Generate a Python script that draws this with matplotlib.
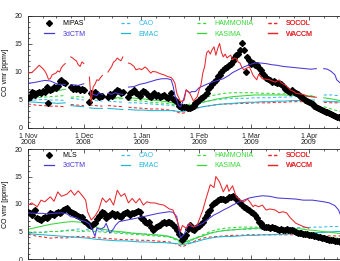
import numpy as np
import matplotlib
matplotlib.use("Agg")
import matplotlib.pyplot as plt
from matplotlib.lines import Line2D

plt.rcParams["font.family"] = ["Liberation Sans", "DejaVu Sans"]

N = np.nan

# ---------------- data (day since 1 Nov 2008, CO vmr ppmv) ----------------
month_days = [0, 30, 61, 92, 120, 151]
month_labels = ["1 Nov\n2008", "1 Dec\n2008", "1 Jan\n2009", "1 Feb\n2009", "1 Mar\n2009", "1 Apr\n2009"]

# ---- top panel (MIPAS) ----
top_obs = [(0,5.3),(1,5.6),(2,6.5),(3,6.2),(4,5.9),(5,6.3),(6,6.5),(7,6.2),(8,6.6),(9,6.4),(10,7.3),(11,4.5),(12,6.8),(13,7.0),(14,7.4),(15,7.2),(16,7.5),(17,8.4),(18,8.6),(19,8.3),(20,8.1),
 (23,7.3),(24,7.0),(25,7.2),(26,6.9),(27,7.1),(28,6.8),(29,6.9),(30,6.7),
 (33,4.7),(34,6.2),(35,5.8),(36,6.4),(37,6.0),(38,5.5),(39,5.8),(40,5.7),
 (43,5.5),(44,6.0),(45,5.8),(46,6.3),(47,6.5),(48,6.8),(49,6.6),(50,6.3),(51,6.4),
 (54,5.6),(55,6.2),(56,6.5),(57,6.8),(58,6.3),(59,6.0),(60,5.7),(61,6.2),(62,6.6),(63,6.4),(64,6.0),(65,5.8),(66,5.6),(67,6.0),(68,6.2),(69,5.8),(70,5.9),(71,5.5),(72,5.8),(73,5.9),(74,5.6),(75,5.4),(76,5.5),(77,6.2),(78,5.2),(79,5.0),(80,4.6),(81,4.0),(82,3.8),(83,3.7),(84,3.8),(85,3.8),(86,3.6),(87,3.5),(88,3.8),(89,4.0),(90,4.4),(91,4.6),(92,5.0),(93,5.3),(94,5.6),(95,5.9),(96,6.3),(97,7.0),(98,7.4),(99,7.8),(100,8.2),(101,8.6),(102,9.2),(103,9.5),(104,10.0),(105,10.4),(106,10.8),(107,10.9),(108,11.3),(109,11.5),(110,12.0),(111,12.5),(112,13.0),(113,13.3),(114,13.9),(115,15.1),(116,13.9),(117,10.0),(118,12.7),(119,12.1),(120,11.5),(121,11.6),(122,11.3),(123,11.2),(124,10.8),(125,10.4),(126,9.8),(127,9.5),(128,8.9),(129,8.8),(130,8.5),(131,8.3),(132,8.4),(133,8.2),(134,8.1),(135,8.0),(136,7.8),(137,7.5),(138,7.0),(139,6.8),(140,6.6),(141,6.5),(142,6.7),(143,6.4),(144,6.2),(145,6.0),(146,5.8),(147,5.5),(148,5.3),(149,5.0),(150,4.9),(151,4.7),(152,4.5),(153,4.3),(154,4.0),(155,3.8),(156,3.6),(157,3.4),(158,3.2),(159,3.1),(160,2.9),(161,2.8),(162,2.6),(163,2.5),(164,2.3),(165,2.2),(166,2.0),(167,1.9),(168,1.8)]

top_waccm = [(0,9.8),(2,9.9),(4,10.5),(6,11.2),(8,10.6),(9,10.2),(10,9.6),(11,8.7),(12,8.8),(13,9.5),(15,9.8),(16,10.2),(17,10.0),(18,10.8),(19,11.2),(20,11.5),(21.5,N),
 (23,12.7),(24,12.5),(25,12.2),(26,12.0),(27,11.3),(28,11.0),(29,11.8),(30,11.5),(31.5,N),
 (33,9.1),(34,4.6),(35,7.3),(36,7.8),(37,8.6),(38,8.5),(39,9.0),(40,9.4),(41.5,N),
 (43,10.0),(44,10.5),(45,11.0),(46,11.8),(47,12.0),(48,12.5),(49,12.2),(50,12.0),(51,12.7),(52.5,N),
 (54,11.6),(55,11.5),(57,11.0),(58,10.4),(60,10.6),(61,10.4),(63,10.9),(64,10.6),(66,9.8),(67,10.1),(69,10.0),(71,9.7),(73,9.5),(75,9.2),(77,9.0),(78,8.6),(79,8.0),(80,6.2),(82,4.7),(84,5.0),(85,6.8),(87,6.2),(89,4.8),(90,5.2),(91,5.6),(92,6.8),(93,7.7),(94,9.8),(95,11.0),(96,13.4),(97,13.8),(98,13.2),(99,14.0),(100,14.5),(101,13.0),(102,14.2),(103,15.1),(104,13.5),(105,12.7),(106,13.2),(107,12.5),(108,12.8),(109,13.0),(110,12.2),(111,12.5),(112,12.4),(113,11.8),(114,11.6),(115,10.8),(116,10.4),(117,10.6),(119,10.9),(120,10.2),(121,9.4),(122,9.0),(123,8.6),(124,9.6),(125,9.2),(126,8.8),(128,8.7),(130,8.6),(132,8.3),(133,8.2),(135,8.6),(136,8.1),(138,7.7),(139,7.5),(141,6.8),(143,6.5),(144,6.2),(146,6.1),(148,6.0),(150,5.7),(152,5.6),(154,5.5),(155,5.5)]

top_ctm = [(0,8.0),(3,8.1),(6,8.3),(9,8.5),(12,8.4),(14,8.1),(16,7.8),(18,7.8),(20,7.8),(21.5,N),
 (23,7.7),(25,7.7),(27,7.6),(29,7.8),(30,7.9),(31.5,N),
 (33,6.5),(35,6.0),(37,5.8),(38,6.3),(40,6.0),(41.5,N),
 (43,6.2),(45,6.0),(47,6.3),(49,6.1),(51,6.0),(52.5,N),
 (54,7.3),(57,7.4),(60,7.8),(63,8.0),(66,8.3),(69,8.6),(72,8.8),(75,8.8),(77,8.6),(78,7.5),(79,5.8),(80,5.0),(81,4.0),(82,3.8),(83,4.5),(84,5.5),(85,6.8),(87,6.3),(88,6.5),(90,6.5),(92,7.2),(94,7.5),(96,7.8),(99,8.2),(102,8.5),(105,8.8),(108,9.4),(110,9.9),(113,10.4),(116,10.9),(119,11.3),(122,11.6),(125,11.6),(128,11.5),(131,11.3),(134,11.2),(137,11.0),(140,10.9),(143,10.8),(146,10.7),(149,10.6),(152,10.5),(155,10.6),(157,N),
 (159,10.6),(161,10.5),(163,10.1),(165,9.5),(166,8.6),(168,8.0)]

top_kasima = [(0,5.3),(3,5.6),(6,5.9),(9,6.1),(12,6.4),(15,6.6),(18,6.8),(20,6.9),(21.5,N),
 (23,6.7),(26,6.6),(28,6.5),(30,6.4),(31.5,N),(33,5.8),(36,5.7),(38,5.6),(40,5.5),(41.5,N),
 (43,5.5),(46,5.4),(49,5.4),(51,5.3),(52.5,N),
 (54,5.4),(58,5.3),(62,5.2),(66,5.0),(70,4.9),(74,4.7),(78,4.5),(80,4.1),(82,3.8),(84,3.9),(87,4.1),(90,4.3),(94,4.6),(98,4.9),(102,5.2),(106,5.4),(110,5.6),(114,5.7),(118,5.8),(122,5.9),(126,5.9),(130,5.9),(134,5.9),(138,5.9),(142,5.8),(146,5.8),(150,5.7),(154,5.6),(157,N),
 (159,5.4),(163,5.2),(166,5.0),(168,4.9)]

top_hammonia = [(0,5.2),(4,5.4),(8,5.5),(12,5.6),(16,5.7),(20,5.8),(21.5,N),
 (23,5.5),(26,5.6),(30,5.5),(31.5,N),(33,5.3),(36,5.4),(40,5.3),(41.5,N),
 (43,5.2),(47,5.3),(51,5.2),(52.5,N),
 (54,5.0),(58,4.9),(62,4.8),(66,4.6),(70,4.5),(74,4.4),(78,4.2),(80,4.0),(82,3.8),(84,3.9),(87,4.3),(90,4.8),(94,5.3),(98,5.7),(102,6.0),(106,6.2),(110,6.3),(114,6.3),(118,6.3),(122,6.3),(126,6.2),(130,6.2),(134,6.1),(138,6.1),(142,6.0),(146,5.9),(150,5.8),(154,5.7),(157,N),
 (159,3.8),(162,3.5),(165,3.2),(168,3.0)]

top_cao = [(0,5.0),(4,5.0),(8,5.1),(12,5.0),(16,5.0),(20,4.9),(21.5,N),
 (23,5.3),(26,5.2),(30,5.0),(31.5,N),(33,4.8),(36,4.9),(40,4.8),(41.5,N),
 (43,4.8),(47,4.7),(51,4.6),(52.5,N),
 (54,4.5),(58,4.5),(62,4.4),(66,4.3),(70,4.2),(74,4.1),(78,4.0),(80,3.8),(82,3.6),(84,3.6),(87,3.8),(90,4.2),(94,4.6),(98,4.9),(102,5.1),(106,5.2),(110,5.3),(114,5.3),(118,5.3),(122,5.4),(126,5.4),(130,5.4),(134,5.5),(138,5.5),(142,5.6),(146,5.6),(150,5.7),(154,5.6),(157,N),
 (159,5.9),(163,5.9),(166,5.8),(168,5.8)]

top_emac = [(0,4.7),(4,4.6),(8,4.5),(12,4.5),(16,4.4),(20,4.5),(21.5,N),
 (23,4.0),(26,3.9),(30,3.8),(31.5,N),(33,3.6),(36,3.5),(40,3.5),(41.5,N),
 (43,3.5),(47,3.4),(51,3.3),(52.5,N),
 (54,3.3),(58,3.2),(62,3.2),(66,3.1),(70,3.1),(74,3.1),(78,3.1),(80,3.0),(82,2.9),(84,3.0),(87,3.2),(90,3.5),(94,3.8),(98,4.0),(102,4.2),(106,4.3),(110,4.4),(114,4.5),(118,4.6),(122,4.6),(126,4.7),(130,4.7),(134,4.8),(138,4.8),(142,4.9),(146,4.9),(150,5.0),(154,5.0),(157,N),
 (159,4.8),(163,4.7),(166,4.7),(168,4.6)]

top_socol = [(0,4.3),(4,4.1),(8,4.0),(12,3.9),(16,3.9),(20,3.8),(21.5,N),
 (23,4.2),(26,4.1),(30,4.0),(31.5,N),(33,4.1),(36,4.0),(40,3.9),(41.5,N),
 (43,4.0),(47,3.9),(51,3.8),(52.5,N),
 (54,3.7),(58,3.6),(62,3.5),(66,3.4),(70,3.4),(74,3.3),(78,3.1),(80,2.9),(82,2.6),(84,2.7),(87,3.1),(90,3.5),(94,3.8),(98,4.0),(102,4.2),(106,4.3),(110,4.3),(114,4.4),(118,4.4),(122,4.5),(126,4.5),(130,4.5),(134,4.6),(138,4.6),(142,4.7),(146,4.7),(150,4.7),(154,4.7),(157,N),
 (159,4.6),(163,4.5),(166,4.5),(168,4.4)]

# ---- bottom panel (MLS) ----
bot_obs_vals = [8.6,8.3,8.0,8.7,9.0,7.4,7.3,7.1,7.4,7.7,7.4,7.6,8.4,8.2,8.0,8.4,8.6,8.4,8.5,8.9,
 9.1,9.3,8.8,8.6,8.4,8.2,8.0,7.9,7.7,7.7,7.0,6.8,6.4,6.2,6.0,6.3,6.5,7.3,7.8,8.0,
 8.6,8.3,7.5,7.9,8.0,8.3,8.1,7.9,8.1,7.8,7.7,8.2,8.4,8.6,8.3,8.0,8.4,8.4,8.5,8.7,
 8.6,7.4,7.2,6.8,6.6,6.8,5.8,5.3,5.5,5.8,6.0,6.2,6.5,6.7,6.6,6.8,6.8,6.5,6.2,5.8,
 5.3,4.5,4.1,3.5,3.8,4.4,5.5,6.2,5.5,5.3,5.6,5.8,6.0,6.4,6.8,7.4,8.0,8.5,8.9,9.8,
 10.1,10.4,10.7,11.0,11.0,10.9,10.8,11.0,11.2,11.3,11.5,11.3,10.9,10.5,10.2,9.8,9.5,9.3,9.1,8.9,
 8.6,8.4,8.0,7.4,6.8,6.5,6.0,5.9,5.8,5.9,5.7,5.8,5.7,5.6,5.5,5.3,5.4,5.2,5.3,5.5,
 5.3,5.2,5.3,5.1,5.0,4.8,4.7,4.8,4.6,4.5,4.5,4.4,4.3,4.4,4.2,4.1,4.0,4.0,3.8,3.8,
 3.7,3.6,3.5,3.5,3.4,3.3,3.2,3.2,3.1]
bot_obs_days = list(range(len(bot_obs_vals)))

bot_waccm = [(0,9.8),(2,10.2),(5,9.5),(7,10.7),(9,10.4),(12,11.3),(14,10.5),(16,12.2),(18,11.4),(21,11.8),(23,12.5),(25,11.6),(27,12.4),(29,11.6),(31,10.7),(32,8.6),(34,7.1),(36,7.8),(38,8.9),(40,11.1),(42,10.3),(44,11.0),(46,9.8),(48,12.5),(50,11.4),(52,11.9),(54,10.2),(56,11.0),(58,10.2),(60,11.0),(62,9.8),(64,10.4),(66,10.2),(68,10.2),(70,10.0),(73,9.8),(76,9.1),(78,8.9),(80,7.1),(82,5.0),(83,6.1),(85,5.6),(87,6.5),(89,5.8),(91,6.2),(92,7.1),(94,8.9),(96,11.3),(98,13.5),(100,13.0),(101,15.0),(103,14.0),(105,12.2),(107,13.5),(108,12.3),(110,13.3),(112,11.3),(114,10.7),(116,10.4),(118,10.9),(119,10.5),(121,9.5),(122,9.8),(124,9.5),(126,9.8),(128,8.9),(130,9.1),(133,8.9),(135,8.4),(137,8.6),(139,8.4),(141,7.5),(144,6.5),(148,5.9),(151,5.6)]

bot_ctm = [(0,8.4),(4,8.3),(8,8.3),(10,8.2),(14,8.3),(18,8.4),(21,8.2),(23,7.7),(26,7.5),(28,7.1),(31,6.8),(33,6.4),(35,5.0),(36,4.1),(37,5.6),(39,5.4),(41,5.8),(42,6.5),(44,4.7),(46,5.5),(47,6.1),(49,6.8),(52,7.0),(55,7.2),(58,7.4),(62,7.7),(66,8.0),(70,8.3),(74,8.5),(76,8.6),(78,8.5),(80,7.7),(81,5.6),(82,3.8),(84,4.5),(86,6.2),(88,5.9),(90,5.9),(92,6.2),(94,6.5),(97,7.3),(100,8.0),(103,8.5),(105,8.9),(108,9.4),(110,9.8),(113,10.3),(116,10.7),(119,11.1),(122,11.3),(126,11.5),(130,11.4),(134,11.1),(139,11.0),(144,10.9),(148,10.7),(153,10.7),(159,10.4),(162,10.2),(165,9.7),(167,8.9),(168,8.0)]

bot_kasima = [(0,5.4),(4,5.7),(8,6.0),(12,6.3),(16,6.5),(20,6.7),(24,6.8),(28,6.7),(32,6.3),(36,5.9),(40,5.4),(44,5.2),(48,5.0),(52,4.9),(56,4.7),(60,4.6),(64,4.5),(68,4.4),(72,4.3),(76,4.1),(80,3.6),(83,2.9),(86,3.3),(90,3.8),(94,4.2),(98,4.7),(102,5.0),(106,5.2),(110,5.3),(114,5.4),(118,5.5),(122,5.6),(126,5.6),(130,5.6),(134,5.6),(138,5.6),(142,5.5),(146,5.5),(150,5.3),(154,5.2),(158,5.0),(162,4.9),(166,4.7),(168,4.6)]

bot_hammonia = [(0,4.9),(4,4.9),(8,4.8),(12,5.0),(16,5.0),(20,5.1),(24,5.2),(28,5.0),(32,5.1),(36,5.0),(40,4.9),(44,4.8),(48,4.7),(52,4.6),(56,4.5),(60,4.4),(64,4.3),(68,4.2),(72,4.1),(76,4.0),(80,3.4),(83,2.6),(86,3.0),(90,3.8),(94,4.4),(98,5.0),(102,5.4),(106,5.6),(110,5.7),(114,5.8),(118,5.8),(122,5.8),(126,5.7),(130,5.6),(134,5.5),(138,5.4),(142,5.3),(146,5.1),(150,4.9),(154,4.6),(158,4.3),(162,4.0),(166,3.8),(168,3.7)]

bot_cao = [(0,4.7),(4,4.8),(8,4.9),(12,5.0),(16,5.0),(20,5.2),(24,5.3),(28,5.5),(30,5.0),(32,5.4),(34,5.6),(36,5.1),(38,5.3),(40,5.1),(44,5.0),(48,4.9),(52,4.8),(56,4.7),(60,4.6),(64,4.5),(68,4.4),(72,4.3),(76,4.1),(80,3.6),(83,2.9),(86,3.2),(90,3.7),(94,4.2),(98,4.7),(102,5.0),(106,5.2),(110,5.3),(114,5.4),(118,5.4),(122,5.5),(126,5.5),(130,5.6),(134,5.6),(138,5.6),(142,5.7),(146,5.7),(150,5.7),(154,5.8),(158,5.8),(162,5.9),(166,5.9),(168,5.9)]

bot_emac = [(0,4.6),(4,4.5),(8,4.4),(12,4.3),(16,4.2),(20,4.1),(24,4.0),(28,3.9),(32,3.8),(36,3.6),(40,3.5),(44,3.4),(48,3.3),(52,3.3),(56,3.2),(60,3.1),(64,3.1),(68,3.0),(72,3.0),(76,2.9),(80,2.8),(83,2.6),(86,2.8),(90,3.1),(94,3.5),(98,3.8),(102,4.0),(106,4.1),(110,4.1),(114,4.2),(118,4.3),(122,4.3),(126,4.4),(130,4.4),(134,4.5),(138,4.5),(142,4.6),(146,4.6),(150,4.7),(154,4.8),(158,4.8),(162,4.9),(166,5.0),(168,5.0)]

bot_socol = [(0,4.5),(4,4.2),(8,4.0),(12,3.8),(16,3.9),(20,3.8),(24,4.0),(28,4.1),(32,4.0),(36,3.9),(40,3.8),(44,3.7),(48,3.6),(52,3.5),(56,3.5),(60,3.4),(64,3.4),(68,3.3),(72,3.2),(76,3.1),(80,2.7),(83,2.2),(86,2.7),(90,3.3),(94,3.8),(98,4.0),(102,4.1),(106,4.2),(110,4.3),(114,4.3),(118,4.4),(122,4.4),(126,4.4),(130,4.4),(134,4.4),(138,4.4),(142,4.4),(146,4.4),(150,4.4),(154,4.3),(158,4.3),(162,4.2),(166,4.2),(168,4.2)]

# ---------------- styling ----------------
C_CTM = "#4a38d4"
C_RED = "#e8282c"
C_GRN = "#35d835"
C_CAO = "#38b8f0"
C_EMAC = "#1fb5d5"
FS = 5

W, H = 340, 261
fig = plt.figure(figsize=(W / 100, H / 100), dpi=100)

def px_axes(x0, y0, x1, y1):
    return fig.add_axes([x0 / W, 1 - y1 / H, (x1 - x0) / W, (y1 - y0) / H])

ax_top = px_axes(28, 16, 345, 128)
ax_bot = px_axes(28, 149, 345, 259)
XMAX = (345 - 28) / 1.86

def unzip(pairs):
    d = [p[0] for p in pairs]
    v = [p[1] for p in pairs]
    return d, v

def style_axes(ax, show_xlabels):
    ax.set_xlim(0, XMAX)
    ax.set_ylim(0, 20)
    ax.set_yticks([0, 5, 10, 15, 20])
    ax.set_yticks(range(0, 21), minor=True)
    ax.set_xticks(month_days)
    minor = []
    for m in month_days:
        minor += [m + 8, m + 15, m + 23]
    ax.set_xticks([m for m in minor if m < XMAX], minor=True)
    if show_xlabels:
        ax.set_xticklabels(month_labels, fontsize=FS, linespacing=0.85)
    else:
        ax.set_xticklabels([])
    ax.tick_params(axis="both", which="both", direction="in", top=True, right=False,
                   labelsize=FS, width=0.5, colors="#222222", pad=3.5)
    ax.tick_params(axis="both", which="major", length=3)
    ax.tick_params(axis="both", which="minor", length=1.6)
    ax.tick_params(axis="y", which="both", pad=4)
    for s in ax.spines.values():
        s.set_linewidth(0.6)
        s.set_color("#222222")
    ax.spines["right"].set_visible(False)
    ax.set_ylabel("CO vmr [ppmv]", fontsize=FS, labelpad=4)

def draw_panel(ax, obs_d, obs_v, obs_name, ctm, waccm, kasima, hammonia, cao, emac, socol):
    dash = (0, (3.0, 2.2))
    lw = 0.75
    d, v = unzip(socol); ax.plot(d, v, color=C_RED, lw=lw, ls=dash)
    d, v = unzip(emac); ax.plot(d, v, color=C_EMAC, lw=lw)
    d, v = unzip(cao); ax.plot(d, v, color=C_CAO, lw=lw, ls=dash)
    d, v = unzip(hammonia); ax.plot(d, v, color=C_GRN, lw=lw, ls=dash)
    d, v = unzip(kasima); ax.plot(d, v, color=C_GRN, lw=lw)
    ax.plot(obs_d, obs_v, ls="none", marker="D", ms=3.0, color="black", mec="black", zorder=3)
    d, v = unzip(ctm); ax.plot(d, v, color=C_CTM, lw=lw, zorder=4)
    d, v = unzip(waccm); ax.plot(d, v, color=C_RED, lw=lw, zorder=4)

    cols = [
        ([Line2D([], [], ls="none", marker="D", ms=3.0, color="black"),
          Line2D([], [], color=C_CTM, lw=0.9)], [obs_name, "3dCTM"], ["black", C_CTM], 0.052),
        ([Line2D([], [], color=C_CAO, lw=0.9, ls=(0, (2.5, 2.0))),
          Line2D([], [], color=C_EMAC, lw=0.9)], ["CAO", "EMAC"], [C_CAO, C_EMAC], 0.292),
        ([Line2D([], [], color=C_GRN, lw=0.9, ls=(0, (2.5, 2.0))),
          Line2D([], [], color=C_GRN, lw=0.9)], ["HAMMONIA", "KASIMA"], [C_GRN, C_GRN], 0.532),
        ([Line2D([], [], color=C_RED, lw=0.9, ls=(0, (2.5, 2.0))),
          Line2D([], [], color=C_RED, lw=0.9)], ["SOCOL", "WACCM"], [C_RED, C_RED], 0.757),
    ]
    return cols

def add_legends(ax, cols, ytop):
    for handles, labels, colors, x in cols:
        leg = ax.legend(handles, labels, loc="upper left", bbox_to_anchor=(x, ytop),
                        frameon=False, fontsize=FS, handlelength=1.3, handletextpad=1.3,
                        labelspacing=0.45, borderpad=0, borderaxespad=0)
        for t, c in zip(leg.get_texts(), colors):
            t.set_color(c)
        ax.add_artist(leg)

style_axes(ax_top, True)
style_axes(ax_bot, False)

d, v = unzip(top_obs)
cols = draw_panel(ax_top, d, v, "MIPAS", top_ctm, top_waccm, top_kasima, top_hammonia, top_cao, top_emac, top_socol)
add_legends(ax_top, cols, 0.96)

cols = draw_panel(ax_bot, bot_obs_days, bot_obs_vals, "MLS", bot_ctm, bot_waccm, bot_kasima, bot_hammonia, bot_cao, bot_emac, bot_socol)
add_legends(ax_bot, cols, 0.97)

fig.savefig("out.png", dpi=100)
